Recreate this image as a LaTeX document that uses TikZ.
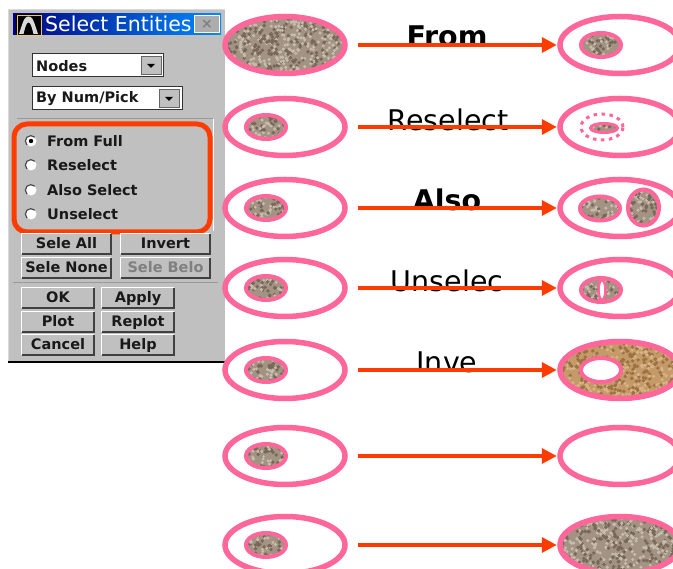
\documentclass[tikz,border=0pt]{standalone}
\usepackage{fontspec}
\setmainfont{DejaVu Sans}
\usetikzlibrary{shapes.geometric,arrows.meta}
\definecolor{pinkline}{HTML}{FF6699}
\definecolor{redline}{HTML}{FF3C00}
\definecolor{panel}{HTML}{C0C0C0}
\definecolor{sA}{HTML}{A39383}
\definecolor{sB}{HTML}{77685A}
\definecolor{sC}{HTML}{C8BCAE}
\definecolor{bA}{HTML}{C49A68}
\definecolor{bB}{HTML}{9C7244}
\definecolor{bC}{HTML}{D8B488}
\tikzset{
  outerell/.style={ellipse,draw=pinkline,line width=5.5pt,inner sep=0pt,minimum width=120pt,minimum height=57pt},
  innerell/.style={ellipse,draw=pinkline,line width=4pt,inner sep=0pt,minimum width=40pt,minimum height=24pt},
  conn/.style={draw=redline,line width=3.5pt,-{Triangle[length=15pt,width=15pt]},shorten <=10.5pt,shorten >=0.5pt},
  biglabel/.style={anchor=base,inner sep=0pt,font=\fontsize{28.5}{30}\selectfont},
  dlgtext/.style={inner sep=0pt,font=\fontsize{14.5}{16}\selectfont\bfseries,text=black!90},
  btnbox/.style={fill=panel,inner sep=0pt,text height=12pt,text depth=2pt,font=\fontsize{14.5}{16}\selectfont\bfseries,text=black!90},
  radio/.style={circle,fill=white,inner sep=0pt,minimum size=11pt},
}
% x y rx ry base dark light
\newcommand{\speckle}[7]{%
  \begin{scope}
    \clip (#1,#2) ellipse [x radius=#3, y radius=#4];
    \fill[#5] (#1-#3,#2-#4) rectangle (#1+#3,#2+#4);
    \pgfmathtruncatemacro{\nd}{#3*#4/7}
    \foreach \k in {1,...,\nd}{
      \pgfmathsetmacro{\pxa}{#1+#3*rand}
      \pgfmathsetmacro{\pya}{#2+#4*rand}
      \fill[#6] (\pxa,\pya) circle (1.9);
      \pgfmathsetmacro{\pxb}{#1+#3*rand}
      \pgfmathsetmacro{\pyb}{#2+#4*rand}
      \fill[#7] (\pxb,\pyb) circle (1.7);
    }
  \end{scope}}
% name x1 y1 x2 y2 text
\newcommand{\dlgbtn}[6]{%
  \node[btnbox,minimum width=#4-#2,minimum height=#5-#3] (#1) at ({(#2+#4)/2},{(#3+#5)/2}) {#6};
  \draw[white,line width=1.2pt] (#1.south west) -- (#1.north west) -- (#1.north east);
  \draw[black!75,line width=1.8pt] (#1.south west) -- (#1.south east) -- (#1.north east);}
\begin{document}
\begin{tikzpicture}[x=1pt,y=-1pt]
\pgfmathsetseed{4711}
\clip (0,0) rectangle (673,569);
\fill[white] (0,0) rectangle (673,569);
% dialog
\fill[panel] (8,10) rectangle (225,362);
\draw[white!85!black,line width=1pt] (8,362) -- (8,10) -- (225,10);
\draw[black,line width=1.2pt] (8,362) -- (225,362);
\shade[left color=blue!50!black,right color=blue!45!cyan] (13,14) rectangle (221,35);
\fill[black] (16,14) rectangle (41,35);
\draw[yellow!70!orange,line width=0.8pt] (17,15) rectangle (41,35);
\fill[white!85!black] (19,34) .. controls (24,18) and (25,16.5) .. (28.5,16.5) .. controls (32,16.5) and (33,18) .. (38,34) -- (33.5,34) .. controls (31,24) and (30,22.5) .. (28.5,22.5) .. controls (27,22.5) and (26,24) .. (23.5,34) -- cycle;
\node[anchor=base west,inner sep=0pt,text=white,font=\fontsize{20.5}{22}\selectfont] (title) at (45,31.5) {Select Entities};
\node[fill=panel!90!black,draw=white,inner sep=0pt,minimum width=25pt,minimum height=17pt,text=gray,font=\fontsize{14}{14}\selectfont\bfseries] (closebtn) at (207,24) {×};
% drop-downs
\node[fill=white,draw=black!80,line width=1pt,minimum width=131pt,minimum height=23pt,inner sep=0pt] (nodesbox) at (97.5,65.5) {};
\node[dlgtext,anchor=west] (nodestext) at (36,66) {Nodes};
\node[fill=panel,draw=black!60,inner sep=0pt,minimum width=20pt,minimum height=18pt] (nodesbtn) at (151,65.5) {};
\fill[black] (147,64) -- (155,64) -- (151,68) -- cycle;
\node[fill=white,draw=black!80,line width=1pt,minimum width=150pt,minimum height=23pt,inner sep=0pt] (numbox) at (107,98.5) {};
\node[dlgtext,anchor=west] (numtext) at (36,99) {By Num/Pick};
\node[fill=panel,draw=black!60,inner sep=0pt,minimum width=20pt,minimum height=18pt] (numbtn) at (169,98.5) {};
\fill[black] (165,97) -- (173,97) -- (169,101) -- cycle;
\draw[white!60!black,line width=1pt] (17,119) -- (213,119);
\draw[white,line width=0.8pt] (213,119) -- (213,231);
% radios
\foreach \nm/\yy/\tx in {ra/141/From Full,rb/165/Reselect,rc/190/Also Select,rd/214/Unselect}{
  \node[radio] (\nm) at (31,\yy) {};
  \draw[black!70,line width=1.2pt] (\nm.south west) arc (135:315:5.5);
  \node[dlgtext,anchor=west] (\nm t) at (47,\yy) {\tx};
}
\fill[black] (ra) circle (2.2);
\node[draw=redline,line width=5pt,rounded corners=13pt,minimum width=196pt,minimum height=108pt,inner sep=0pt] (selbox) at (112,178) {};
% buttons
\dlgbtn{bsa}{22}{234}{111}{254}{Sele All}
\dlgbtn{bin}{121}{234}{210}{254}{Invert}
\dlgbtn{bsn}{22}{258}{111}{278}{Sele None}
\dlgbtn{bsb}{121}{258}{210}{278}{\textcolor{gray}{Sele Belo}}
\draw[white!60!black,line width=1pt] (13,283) -- (218,283);
\dlgbtn{bok}{22}{288}{94}{308}{OK}
\dlgbtn{bap}{102}{288}{174}{308}{Apply}
\dlgbtn{bpl}{22}{312}{94}{332}{Plot}
\dlgbtn{bre}{102}{312}{174}{332}{Replot}
\dlgbtn{bca}{22}{335}{94}{355}{Cancel}
\dlgbtn{bhe}{102}{335}{174}{355}{Help}
% textures
\speckle{285}{45}{60}{28.5}{sA}{sB}{sC}
\foreach \yy in {127,208,288,370,456,545}{\speckle{266}{\yy}{20}{12}{sA}{sB}{sC}}
\speckle{601}{45}{20}{12}{sA}{sB}{sC}
\speckle{604}{128}{13}{4.5}{sA}{sB}{sC}
\speckle{600}{208.5}{20}{12}{sA}{sB}{sC}
\speckle{643.5}{207.5}{15}{18}{sA}{sB}{sC}
\speckle{601}{290}{20}{12}{sA}{sB}{sC}
\speckle{620}{370}{60}{28.5}{bA}{bB}{bC}
\speckle{620}{545}{60}{28.5}{sA}{sB}{sC}
% left ellipses
\foreach \nm/\yy in {L1/45,L2/127,L3/208,L4/288,L5/370,L6/456,L7/545}{
  \node[outerell] (\nm) at (285,\yy) {};
}
\foreach \nm/\yy in {La/127,Lb/208,Lc/288,Ld/370,Le/456,Lf/545}{
  \node[innerell] (\nm) at (266,\yy) {};
}
% right ellipses
\foreach \nm/\yy in {R1/45,R2/127,R3/208,R4/288,R5/370,R6/456,R7/545}{
  \node[outerell] (\nm) at (620,\yy) {};
}
\node[innerell] (Ra) at (601,45) {};
\node[innerell,minimum width=27pt,minimum height=9pt,line width=3pt] (Rb) at (604,128) {};
\node[ellipse,draw=pinkline,line width=3pt,dash pattern=on 3.5pt off 4.5pt,inner sep=0pt,minimum width=42pt,minimum height=26pt] (Rc) at (602,127) {};
\node[innerell] (Rd) at (600,208.5) {};
\node[innerell,minimum width=31pt,minimum height=36pt] (Re) at (643.5,207.5) {};
\node[innerell] (Rf) at (601,290) {};
\node[ellipse,draw=pinkline,fill=white,line width=2.5pt,inner sep=0pt,minimum width=7pt,minimum height=20pt] (Rg) at (602,290) {};
\node[innerell,fill=white] (Rh) at (601,370) {};
% labels
\node[biglabel,font=\fontsize{28.5}{30}\selectfont\bfseries] (t1) at (447,46.5) {From};
\node[biglabel] (t2) at (448,130.5) {Reselect};
\node[biglabel,font=\fontsize{28.5}{30}\selectfont\bfseries] (t3) at (447,211) {Also};
\node[biglabel] (t4) at (447,292) {Unselec};
\node[biglabel] (t5) at (447,373) {Inve};
% connectors
\foreach \k in {1,...,7}{
  \draw[conn] (L\k) -- (R\k);
}
\end{tikzpicture}
\end{document}
